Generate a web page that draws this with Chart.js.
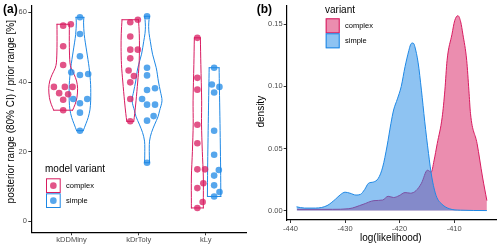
<!DOCTYPE html>
<html>
<head>
<meta charset="utf-8">
<script src="https://cdn.jsdelivr.net/npm/chart.js@4.4.0/dist/chart.umd.min.js"></script>
<style>
  html, body { margin: 0; padding: 0; background: #fff; }
  #wrap { position: relative; width: 500px; height: 248px; }
  .panel { position: absolute; top: 0; width: 250px; height: 248px; }
</style>
</head>
<body>
<div id="wrap">
  <div class="panel" style="left:0"><canvas id="violinChart" width="250" height="248"></canvas></div>
  <div class="panel" style="left:250px"><canvas id="densityChart" width="250" height="248"></canvas></div>
</div>
<script>
// panel (a): parameters on the x axis and the two model variants
const parameters = ["kDDMiny", "kDrToly", "kLy"];
const variants = ["complex", "simple"];

// posterior range (80% CI) / prior range [%], read per parameter and variant
const kDDMinyComplex = [56.2, 56.6, 50.3, 44.9, 38.6, 38.6, 38.6, 36.8, 36.5, 34.9, 31.9];
const kDDMinySimple = [58.6, 53.8, 47.4, 42.8, 42.0, 42.3, 35.1, 35.1, 33.9, 31.2, 26.0];
const kDrTolyComplex = [57.2, 57.9, 53.1, 49.3, 49.3, 46.8, 43.3, 41.7, 39.9, 35.1, 28.7];
const kDrTolySimple = [58.9, 44.1, 41.9, 37.7, 38.2, 35.1, 33.5, 33.5, 30.2, 28.9, 16.8];
const kLyComplex = [52.7, 41.2, 37.8, 27.7, 22.4, 14.9, 14.9, 10.9, 9.5, 5.5, 3.8];
const kLySimple = [44.1, 39.3, 38.6, 37.0, 26.0, 19.1, 14.7, 13.1, 10.3, 8.4, 7.1];

// horizontal jitter of each point (category units)
const kDDMinyComplexJitter = [0, 0.114, 0, 0, -0.138, 0.025, 0.14, -0.06, 0.074, 0, 0];
const kDDMinySimpleJitter = [0, 0, 0, -0.129, 0, 0.123, -0.1, 0.109, 0, 0, 0];
const kDrTolyComplexJitter = [0, 0.113, 0, 0, 0.113, 0, -0.025, 0.054, 0, 0, 0];
const kDrTolySimpleJitter = [0, 0, 0, 0, 0.119, -0.074, 0, 0.119, 0.098, 0, 0];
const kLyComplexJitter = [0, 0, 0, 0, 0, 0, 0.114, 0.089, 0, 0.079, 0];
const kLySimpleJitter = [0, -0.034, 0.079, 0, 0, 0, 0.07, 0, 0, 0.08, 0];

// violin outlines: value levels and half widths (category units)
const kDDMinyComplexViolinY = [31.9, 33.6, 35.5, 38.2, 40.3, 42.2, 44.0, 45.5, 50.0, 56.6];
const kDDMinyComplexViolinW = [0.141, 0.178, 0.205, 0.215, 0.2, 0.163, 0.119, 0.101, 0.092, 0.092];
const kDDMinySimpleViolinY = [26.0, 28.0, 29.8, 32.0, 34.6, 39.3, 44.1, 48.9, 53.6, 57.0, 58.6];
const kDDMinySimpleViolinW = [0.049, 0.089, 0.123, 0.149, 0.16, 0.159, 0.137, 0.1, 0.064, 0.054, 0.059];
const kDrTolyComplexViolinY = [28.7, 31.0, 34.6, 40.0, 45.0, 50.0, 54.0, 57.9];
const kDrTolyComplexViolinW = [0.052, 0.067, 0.086, 0.111, 0.131, 0.137, 0.134, 0.123];
const kDrTolySimpleViolinY = [16.8, 19.0, 23.0, 25.5, 27.9, 30.0, 31.7, 34.6, 37.4, 40.0, 44.1, 48.0, 51.7, 54.0, 56.0, 58.0, 58.9];
const kDrTolySimpleViolinW = [0.037, 0.034, 0.037, 0.067, 0.116, 0.163, 0.186, 0.223, 0.198, 0.171, 0.137, 0.082, 0.049, 0.03, 0.024, 0.03, 0.037];
const kLyComplexViolinY = [3.8, 5.0, 12.7, 20.0, 27.9, 34.6, 45.0, 52.7];
const kLyComplexViolinW = [0.089, 0.089, 0.089, 0.074, 0.062, 0.064, 0.052, 0.045];
const kLySimpleViolinY = [7.1, 15.0, 22.2, 30.0, 38.0, 44.1];
const kLySimpleViolinW = [0.1, 0.097, 0.092, 0.086, 0.079, 0.074];

const rangeTicks = [0, 20, 40, 60];

// panel (b): log(likelihood) density per variant
const complexLogLik = [-438.8, -432.3, -429.3, -426.7, -424.7, -423.1, -422.1, -421.1, -420.1, -419.0, -418.0, -417.0,
  -416.0, -414.9, -414.2, -413.7, -413.1, -412.2, -411.7, -411.3, -410.4, -409.9, -409.3, -408.8, -408.4, -407.7,
  -407.3, -407.0, -405.8, -404.8, -404.0];
const complexDensity = [0.001, 0.001, 0.0015, 0.005, 0.008, 0.0085, 0.0115, 0.0105, 0.012, 0.0145, 0.014, 0.016,
  0.022, 0.0325, 0.031, 0.04, 0.054, 0.075, 0.097, 0.121, 0.142, 0.153, 0.157, 0.152, 0.142, 0.121,
  0.097, 0.078, 0.054, 0.027, 0.008];
const simpleLogLik = [-438.9, -437.4, -435.4, -433.3, -431.8, -430.8, -430.0, -429.1, -428.0, -427.2, -426.4, -425.7,
  -424.8, -423.9, -423.1, -422.3, -421.6, -421.1, -420.4, -419.7, -419.0, -418.3, -418.0, -417.7, -417.4, -417.2,
  -416.6, -416.0, -415.4, -414.7, -414.1, -413.3, -412.2, -410.9, -408.8, -404.0];
const simpleDensity = [0.003, 0.002, 0.002, 0.004, 0.009, 0.013, 0.0148, 0.014, 0.0125, 0.013, 0.017, 0.022,
  0.023, 0.026, 0.035, 0.052, 0.07, 0.081, 0.09, 0.1, 0.116, 0.129, 0.1335, 0.135, 0.1345, 0.132,
  0.119, 0.097, 0.072, 0.046, 0.027, 0.012, 0.005, 0.0015, 0.0003, 0];

const densityTicks = [0, 0.05, 0.10, 0.15];
const densityTickLabels = ["0.00", "0.05", "0.10", "0.15"];
const logLikTicks = [-440, -430, -420, -410];

// colours
const FONT = "'Liberation Sans', Arial, Helvetica, sans-serif";
const variantColors = { complex: "#D81B60", simple: "#1E88E5" };
const pointColors = { complex: "rgba(216, 27, 96, 0.75)", simple: "rgba(30, 136, 229, 0.75)" };
const fillColors = { complex: "rgba(216, 27, 96, 0.5)", simple: "rgba(30, 136, 229, 0.5)" };
const dodge = { complex: -0.125, simple: 0.125 };

Chart.defaults.font.family = FONT;
Chart.defaults.color = "#4d4d4d";
Chart.defaults.animation = false;
Chart.defaults.events = [];

// draws panel letters, axis titles and the legends
const panelText = {
  id: "panelText",
  afterDraw(chart, args, opts) {
    const ctx = chart.ctx;
    ctx.save();
    (opts.boxes || []).forEach(b => {
      ctx.fillStyle = b.fill;
      ctx.fillRect(b.x, b.y, b.w, b.h);
      ctx.strokeStyle = b.stroke;
      ctx.lineWidth = 1;
      ctx.strokeRect(b.x + 0.5, b.y + 0.5, b.w - 1, b.h - 1);
      if (b.dot) {
        ctx.fillStyle = b.dot;
        ctx.beginPath();
        ctx.arc(b.x + b.w / 2, b.y + b.h / 2, 3.3, 0, Math.PI * 2);
        ctx.fill();
      }
    });
    (opts.texts || []).forEach(t => {
      ctx.save();
      ctx.font = `${t.bold ? "bold " : ""}${t.size}px ${FONT}`;
      ctx.fillStyle = t.color || "#000";
      ctx.textAlign = t.align || "left";
      ctx.textBaseline = "middle";
      ctx.translate(t.x, t.y);
      if (t.rotate) ctx.rotate(-Math.PI / 2);
      ctx.fillText(t.text, 0, 0);
      ctx.restore();
    });
    ctx.restore();
  }
};

// groups for panel (a)
const groups = [
  { cat: 0, variant: "complex", values: kDDMinyComplex, jitter: kDDMinyComplexJitter, vy: kDDMinyComplexViolinY, vw: kDDMinyComplexViolinW },
  { cat: 0, variant: "simple", values: kDDMinySimple, jitter: kDDMinySimpleJitter, vy: kDDMinySimpleViolinY, vw: kDDMinySimpleViolinW },
  { cat: 1, variant: "complex", values: kDrTolyComplex, jitter: kDrTolyComplexJitter, vy: kDrTolyComplexViolinY, vw: kDrTolyComplexViolinW },
  { cat: 1, variant: "simple", values: kDrTolySimple, jitter: kDrTolySimpleJitter, vy: kDrTolySimpleViolinY, vw: kDrTolySimpleViolinW },
  { cat: 2, variant: "complex", values: kLyComplex, jitter: kLyComplexJitter, vy: kLyComplexViolinY, vw: kLyComplexViolinW },
  { cat: 2, variant: "simple", values: kLySimple, jitter: kLySimpleJitter, vy: kLySimpleViolinY, vw: kLySimpleViolinW }
];

// outline of one violin: bottom edge, left side, top edge, right side
function violinPath(center, ys, ws) {
  const n = ys.length;
  const gap = { x: null, y: null };
  const pts = [];
  pts.push({ x: center + ws[0], y: ys[0] }, { x: center - ws[0], y: ys[0] }, gap);
  for (let k = 0; k < n; k++) pts.push({ x: center - ws[k], y: ys[k] });
  pts.push(gap);
  pts.push({ x: center - ws[n - 1], y: ys[n - 1] }, { x: center + ws[n - 1], y: ys[n - 1] }, gap);
  for (let k = n - 1; k >= 0; k--) pts.push({ x: center + ws[k], y: ys[k] });
  return pts;
}

const violinDatasets = [];
groups.forEach(g => {
  const center = g.cat + 1 + dodge[g.variant];
  violinDatasets.push({
    data: violinPath(center, g.vy, g.vw),
    showLine: true,
    borderColor: variantColors[g.variant],
    borderWidth: 1,
    borderCapStyle: "round",
    tension: 0.3,
    pointRadius: 0,
    fill: false,
    order: 2
  });
});
groups.forEach(g => {
  const center = g.cat + 1 + dodge[g.variant];
  violinDatasets.push({
    data: g.values.map((v, i) => ({ x: center + g.jitter[i], y: v })),
    backgroundColor: pointColors[g.variant],
    borderWidth: 0,
    pointRadius: 3.3,
    order: 1
  });
});

function axisStyle() {
  return {
    grid: { display: true, drawOnChartArea: false, drawTicks: true, tickLength: 3, color: "#333", lineWidth: 1 },
    border: { display: true, color: "#000", width: 1.2 }
  };
}

new Chart(document.getElementById("violinChart"), {
  type: "scatter",
  data: { datasets: violinDatasets },
  options: {
    responsive: false,
    layout: { padding: { top: 4.5, right: 3.3, left: 0, bottom: 0 } },
    plugins: {
      legend: { display: false },
      tooltip: { enabled: false },
      panelText: {
        boxes: [
          { x: 46, y: 178.3, w: 14.7, h: 14.7, fill: "#fff", stroke: variantColors.complex, dot: pointColors.complex },
          { x: 46, y: 193.3, w: 14.7, h: 14.7, fill: "#fff", stroke: variantColors.simple, dot: pointColors.simple }
        ],
        texts: [
          { text: "(a)", x: 3, y: 10, size: 12, bold: true },
          { text: "posterior range (80% CI) / prior range [%]", x: 11, y: 111.7, size: 10, rotate: true, align: "center" },
          { text: "model variant", x: 45, y: 169.7, size: 10 },
          { text: variants[0], x: 66, y: 186, size: 7.5, color: "#000" },
          { text: variants[1], x: 66, y: 200.8, size: 7.5, color: "#000" }
        ]
      }
    },
    scales: {
      x: {
        type: "linear",
        min: 0.4,
        max: 3.6,
        ...axisStyle(),
        afterFit: s => { s.height = 15.7; },
        afterBuildTicks: s => { s.ticks = parameters.map((p, i) => ({ value: i + 1 })); },
        ticks: {
          autoSkip: false,
          maxRotation: 0,
          padding: 0.5,
          font: { size: 7.5 },
          color: "#4d4d4d",
          callback: v => parameters[v - 1]
        }
      },
      y: {
        type: "linear",
        min: -3.2,
        max: 61.85,
        ...axisStyle(),
        afterFit: s => { s.width = 31.3; },
        afterBuildTicks: s => { s.ticks = rangeTicks.map(v => ({ value: v })); },
        ticks: {
          padding: 1.5,
          font: { size: 7.5 },
          color: "#4d4d4d",
          callback: v => String(v)
        }
      }
    }
  },
  plugins: [panelText]
});

new Chart(document.getElementById("densityChart"), {
  type: "line",
  data: {
    datasets: [
      {
        label: variants[0],
        data: complexLogLik.map((x, i) => ({ x: x, y: complexDensity[i] })),
        borderColor: variantColors.complex,
        backgroundColor: fillColors.complex,
        borderWidth: 1,
        fill: "origin",
        pointRadius: 0,
        cubicInterpolationMode: "monotone",
        order: 2
      },
      {
        label: variants[1],
        data: simpleLogLik.map((x, i) => ({ x: x, y: simpleDensity[i] })),
        borderColor: variantColors.simple,
        backgroundColor: fillColors.simple,
        borderWidth: 1,
        fill: "origin",
        pointRadius: 0,
        cubicInterpolationMode: "monotone",
        order: 1
      }
    ]
  },
  options: {
    responsive: false,
    layout: { padding: { top: 5, right: 3.3, left: 0, bottom: 0 } },
    plugins: {
      legend: { display: false },
      tooltip: { enabled: false },
      panelText: {
        boxes: [
          { x: 75.7, y: 18.3, w: 14, h: 15, fill: fillColors.complex, stroke: variantColors.complex },
          { x: 75.7, y: 33.3, w: 14, h: 15, fill: fillColors.simple, stroke: variantColors.simple }
        ],
        texts: [
          { text: "(b)", x: 6.7, y: 10, size: 12, bold: true },
          { text: "density", x: 11.7, y: 111.7, size: 10, rotate: true, align: "center" },
          { text: "log(likelihood)", x: 140.8, y: 238.3, size: 10, align: "center" },
          { text: "variant", x: 75, y: 10, size: 10 },
          { text: variants[0], x: 95, y: 25.7, size: 7.5, color: "#000" },
          { text: variants[1], x: 95, y: 40.7, size: 7.5, color: "#000" }
        ]
      }
    },
    scales: {
      x: {
        type: "linear",
        min: -440.7,
        max: -402.2,
        ...axisStyle(),
        afterFit: s => { s.height = 28; },
        afterBuildTicks: s => { s.ticks = logLikTicks.map(v => ({ value: v })); },
        ticks: {
          autoSkip: false,
          maxRotation: 0,
          padding: 1,
          font: { size: 7.5 },
          color: "#4d4d4d",
          callback: v => String(v)
        }
      },
      y: {
        type: "linear",
        min: -0.0076,
        max: 0.1652,
        ...axisStyle(),
        afterFit: s => { s.width = 36.7; },
        afterBuildTicks: s => { s.ticks = densityTicks.map(v => ({ value: v })); },
        ticks: {
          padding: 1,
          font: { size: 7.5 },
          color: "#4d4d4d",
          callback: (v, i) => densityTickLabels[i]
        }
      }
    }
  },
  plugins: [panelText]
});
</script>
</body>
</html>
